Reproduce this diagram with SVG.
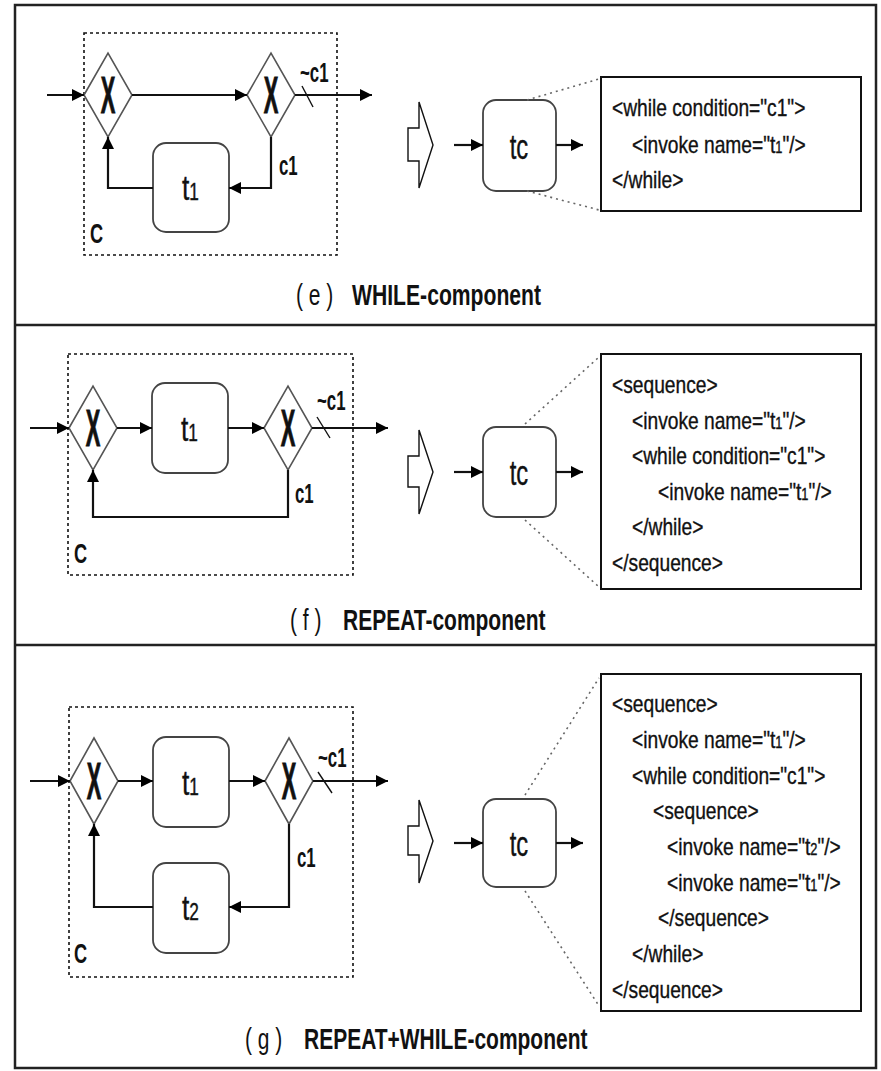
<svg xmlns="http://www.w3.org/2000/svg" width="881" height="1071" viewBox="0 0 881 1071">
<style>
.frame{fill:none;stroke:#222;stroke-width:2.5}
.div{stroke:#222;stroke-width:2.5}
.dot{fill:none;stroke:#111;stroke-width:1.6;stroke-dasharray:3 3}
.gw{fill:#fff;stroke:#555;stroke-width:1.6}
.task{fill:#fff;stroke:#444;stroke-width:1.8}
.code{fill:#fff;stroke:#111;stroke-width:2}
.hollow{fill:#fff;stroke:#111;stroke-width:1.4}
.ln{fill:none;stroke:#111;stroke-width:2.2}
.ar{fill:none;stroke:#111;stroke-width:2.2;marker-end:url(#ah)}
.thin{stroke:#111;stroke-width:1.4}
.zoomln{stroke:#666;stroke-width:1.6;stroke-dasharray:2 4;fill:none}
text{font-family:"Liberation Sans",Arial,sans-serif;fill:#111}
.x{font-size:52px;font-weight:bold;stroke:#111;stroke-width:1}
.lbl{font-size:28px;font-weight:bold}
.nd{font-size:35px;stroke:#111;stroke-width:0.4}
.sub{font-size:23px}
.cd{font-size:24px;stroke:#111;stroke-width:0.35}
.csub{font-size:16px}
.cap{font-size:30px;font-weight:bold}
.par{font-size:30px}
</style>
<defs>
<marker id="ah" viewBox="0 0 10 10" refX="10" refY="5" markerWidth="12" markerHeight="12" markerUnits="userSpaceOnUse" orient="auto"><path d="M0,0 L10,5 L0,10 z" fill="#000"/></marker>
</defs>

<g id="frame">
<rect class="frame" x="15" y="5" width="861" height="1063"/>
<line class="div" x1="15" y1="325" x2="876" y2="325"/>
<line class="div" x1="15" y1="645" x2="876" y2="645"/>
</g>

<!-- ================= Panel e ================= -->
<g id="panel-e">
<g id="e-scope"><rect class="dot" x="84" y="33" width="253" height="222"/>
<text class="lbl" transform="translate(90 243) scale(0.65 1)">C</text></g>
<g id="e-gw1"><polygon class="gw" points="84,95 108,53 132,95 108,137"/>
<text class="x" text-anchor="middle" transform="translate(108 113) scale(0.42 1)">X</text></g>
<g id="e-gw2"><polygon class="gw" points="247,95 271,53 295,95 271,137"/>
<text class="x" text-anchor="middle" transform="translate(271 113) scale(0.42 1)">X</text></g>
<g id="e-t1"><rect class="task" x="153" y="143" width="76" height="89" rx="13"/>
<text class="nd" transform="translate(182 200) scale(0.75 1)">t<tspan class="sub">1</tspan></text></g>
<g id="e-arrow"><polygon class="hollow" points="408,128 419,128 419,102 433,145 419,188 419,161 408,161"/></g>
<g id="e-tc"><rect class="task" x="483" y="100" width="73" height="91" rx="13"/>
<text class="nd" text-anchor="middle" transform="translate(519 159) scale(0.68 1)">tc</text></g>
<g id="e-code"><rect class="code" x="601" y="77" width="260" height="134"/>
<text class="cd" transform="translate(612 116) scale(0.8 1)">&lt;while condition="c1"&gt;</text>
<text class="cd" transform="translate(632 153) scale(0.8 1)">&lt;invoke name="t<tspan class="csub">1</tspan>"/&gt;</text>
<text class="cd" transform="translate(612 188) scale(0.8 1)">&lt;/while&gt;</text></g>
<g id="e-labels">
<text class="lbl" transform="translate(300 82) scale(0.6 1)">~c1</text>
<text class="lbl" transform="translate(279 175) scale(0.6 1)">c1</text>
<text class="par" transform="translate(296 305) scale(0.7 1)">( e )</text>
<text class="cap" transform="translate(352 305) scale(0.705 1)">WHILE-component</text>
</g>
</g>

<!-- ================= Panel f ================= -->
<g id="panel-f">
<g id="f-scope"><rect class="dot" x="68" y="354" width="285" height="221"/>
<text class="lbl" transform="translate(74 563) scale(0.65 1)">C</text></g>
<g id="f-gw1"><polygon class="gw" points="69,428 93,386 117,428 93,470"/>
<text class="x" text-anchor="middle" transform="translate(93 446) scale(0.42 1)">X</text></g>
<g id="f-t1"><rect class="task" x="152" y="383" width="76" height="90" rx="13"/>
<text class="nd" transform="translate(181 441) scale(0.75 1)">t<tspan class="sub">1</tspan></text></g>
<g id="f-gw2"><polygon class="gw" points="264,428 288,386 312,428 288,470"/>
<text class="x" text-anchor="middle" transform="translate(288 446) scale(0.42 1)">X</text></g>
<g id="f-arrow"><polygon class="hollow" points="408,456 419,456 419,430 433,472 419,514 419,487 408,487"/></g>
<g id="f-tc"><rect class="task" x="483" y="427" width="73" height="90" rx="13"/>
<text class="nd" text-anchor="middle" transform="translate(519 485) scale(0.68 1)">tc</text></g>
<g id="f-code"><rect class="code" x="601" y="354" width="260" height="235"/>
<text class="cd" transform="translate(612 393) scale(0.8 1)">&lt;sequence&gt;</text>
<text class="cd" transform="translate(632 429) scale(0.8 1)">&lt;invoke name="t<tspan class="csub">1</tspan>"/&gt;</text>
<text class="cd" transform="translate(632 464) scale(0.8 1)">&lt;while condition="c1"&gt;</text>
<text class="cd" transform="translate(658 500) scale(0.8 1)">&lt;invoke name="t<tspan class="csub">1</tspan>"/&gt;</text>
<text class="cd" transform="translate(632 535) scale(0.8 1)">&lt;/while&gt;</text>
<text class="cd" transform="translate(612 571) scale(0.8 1)">&lt;/sequence&gt;</text></g>
<g id="f-labels">
<text class="lbl" transform="translate(317 410) scale(0.6 1)">~c1</text>
<text class="lbl" transform="translate(295 503) scale(0.6 1)">c1</text>
<text class="par" transform="translate(290 630) scale(0.7 1)">( f )</text>
<text class="cap" transform="translate(343 630) scale(0.7 1)">REPEAT-component</text>
</g>
</g>

<!-- ================= Panel g ================= -->
<g id="panel-g">
<g id="g-scope"><rect class="dot" x="69" y="707" width="284" height="270"/>
<text class="lbl" transform="translate(74 963) scale(0.65 1)">C</text></g>
<g id="g-gw1"><polygon class="gw" points="70,781 94,738 118,781 94,824"/>
<text class="x" text-anchor="middle" transform="translate(94 799) scale(0.42 1)">X</text></g>
<g id="g-t1"><rect class="task" x="153" y="737" width="76" height="90" rx="13"/>
<text class="nd" transform="translate(182 795) scale(0.75 1)">t<tspan class="sub">1</tspan></text></g>
<g id="g-gw2"><polygon class="gw" points="265,781 289,738 313,781 289,824"/>
<text class="x" text-anchor="middle" transform="translate(289 799) scale(0.42 1)">X</text></g>
<g id="g-t2"><rect class="task" x="153" y="863" width="76" height="90" rx="13"/>
<text class="nd" transform="translate(182 920) scale(0.75 1)">t<tspan class="sub">2</tspan></text></g>
<g id="g-arrow"><polygon class="hollow" points="408,826 419,826 419,800 433,841 419,883 419,855 408,855"/></g>
<g id="g-tc"><rect class="task" x="483" y="799" width="73" height="88" rx="13"/>
<text class="nd" text-anchor="middle" transform="translate(519 856) scale(0.68 1)">tc</text></g>
<g id="g-code"><rect class="code" x="601" y="674" width="260" height="337"/>
<text class="cd" transform="translate(612 712) scale(0.8 1)">&lt;sequence&gt;</text>
<text class="cd" transform="translate(632 748) scale(0.8 1)">&lt;invoke name="t<tspan class="csub">1</tspan>"/&gt;</text>
<text class="cd" transform="translate(632 784) scale(0.8 1)">&lt;while condition="c1"&gt;</text>
<text class="cd" transform="translate(653 819) scale(0.8 1)">&lt;sequence&gt;</text>
<text class="cd" transform="translate(667 855) scale(0.8 1)">&lt;invoke name="t<tspan class="csub">2</tspan>"/&gt;</text>
<text class="cd" transform="translate(667 891) scale(0.8 1)">&lt;invoke name="t<tspan class="csub">1</tspan>"/&gt;</text>
<text class="cd" transform="translate(658 926) scale(0.8 1)">&lt;/sequence&gt;</text>
<text class="cd" transform="translate(632 962) scale(0.8 1)">&lt;/while&gt;</text>
<text class="cd" transform="translate(612 998) scale(0.8 1)">&lt;/sequence&gt;</text></g>
<g id="g-labels">
<text class="lbl" transform="translate(318 767) scale(0.6 1)">~c1</text>
<text class="lbl" transform="translate(297 867) scale(0.6 1)">c1</text>
<text class="par" transform="translate(245 1049) scale(0.7 1)">( g )</text>
<text class="cap" transform="translate(304 1049) scale(0.7 1)">REPEAT+WHILE-component</text>
</g>
</g>

<!-- ================= Connectors ================= -->
<g id="connectors">
<!-- e -->
<path class="ar" d="M47,95 H84"/>
<path class="ar" d="M132,95 H247"/>
<path class="ar" d="M295,95 H372"/>
<line class="thin" x1="302" y1="86" x2="313" y2="107"/>
<path class="ar" d="M271,137 V188 H229"/>
<path class="ar" d="M153,188 H108 V137"/>
<path class="ar" d="M454,145 H483"/>
<path class="ar" d="M556,145 H583"/>
<line class="zoomln" x1="527" y1="100" x2="599" y2="79"/>
<line class="zoomln" x1="527" y1="191" x2="599" y2="210"/>
<!-- f -->
<path class="ar" d="M30,428 H69"/>
<path class="ar" d="M117,428 H152"/>
<path class="ar" d="M228,428 H264"/>
<path class="ar" d="M312,428 H388"/>
<line class="thin" x1="317" y1="417" x2="330" y2="438"/>
<path class="ar" d="M288,470 V517 H93 V470"/>
<path class="ar" d="M454,472 H483"/>
<path class="ar" d="M556,472 H583"/>
<line class="zoomln" x1="525" y1="424" x2="599" y2="357"/>
<line class="zoomln" x1="525" y1="520" x2="599" y2="587"/>
<!-- g -->
<path class="ar" d="M30,781 H70"/>
<path class="ar" d="M118,781 H153"/>
<path class="ar" d="M229,781 H265"/>
<path class="ar" d="M313,781 H388"/>
<line class="thin" x1="318" y1="772" x2="332" y2="793"/>
<path class="ar" d="M289,824 V907 H229"/>
<path class="ar" d="M153,907 H94 V824"/>
<path class="ar" d="M454,843 H483"/>
<path class="ar" d="M556,843 H583"/>
<line class="zoomln" x1="525" y1="795" x2="599" y2="678"/>
<line class="zoomln" x1="525" y1="891" x2="599" y2="1006"/>
</g>
</svg>
